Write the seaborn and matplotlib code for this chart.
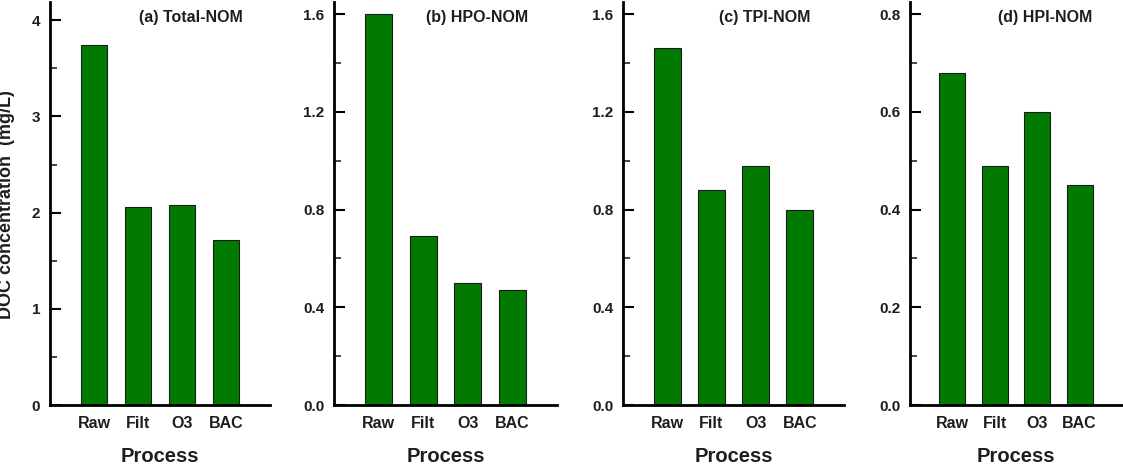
import matplotlib
matplotlib.use("Agg")
import matplotlib.pyplot as plt
import seaborn as sns
import pandas as pd
from matplotlib.ticker import MultipleLocator

sns.set_theme(style="ticks")
plt.rcParams['font.family'] = ['Liberation Sans', 'DejaVu Sans']
plt.rcParams['font.weight'] = 'bold'

processes = ["Raw", "Filt", "O3", "BAC"]
total_nom = [3.74, 2.06, 2.08, 1.72]
hpo_nom = [1.60, 0.69, 0.50, 0.47]
tpi_nom = [1.46, 0.88, 0.98, 0.80]
hpi_nom = [0.68, 0.49, 0.60, 0.45]

titles = ["(a) Total-NOM", "(b) HPO-NOM", "(c) TPI-NOM", "(d) HPI-NOM"]
series = [total_nom, hpo_nom, tpi_nom, hpi_nom]
ylims = [4.19, 1.65, 1.65, 0.825]
major = [1, 0.4, 0.4, 0.2]
minor = [0.5, 0.2, 0.2, 0.1]
fmts = ["{:.0f}", "{:.1f}", "{:.1f}", "{:.1f}"]

TXT = "#1e1e1e"
W, H = 1123, 465
fig = plt.figure(figsize=(W / 100, H / 100), dpi=100)
lefts = [50, 334, 623, 910]
rights = [270, 557, 844, 1122]
bottom_px, top_px = 405, 2
ax_h = bottom_px - top_px

for i in range(4):
    ax = fig.add_axes([lefts[i] / W, (H - bottom_px) / H,
                       (rights[i] - lefts[i]) / W, ax_h / H])
    df = pd.DataFrame({"Process": processes, "DOC": series[i]})
    sns.barplot(data=df, x="Process", y="DOC", ax=ax, color="#007A00",
                saturation=1, width=0.61, edgecolor="#1a1a1a", linewidth=0.8)
    ax.set_xlim(-1, 4)
    ax.set_ylim(0, ylims[i])
    ax.yaxis.set_major_locator(MultipleLocator(major[i]))
    ax.yaxis.set_minor_locator(MultipleLocator(minor[i]))
    f = fmts[i]
    ax.yaxis.set_major_formatter(matplotlib.ticker.FuncFormatter(lambda v, p, f=f: f.format(v)))
    for s in ["top", "right"]:
        ax.spines[s].set_visible(False)
    for s in ["left", "bottom"]:
        ax.spines[s].set_linewidth(2.0)
        ax.spines[s].set_color("black")
    ax.tick_params(axis="y", which="major", direction="in", length=8, width=1.5,
                   labelsize=11, pad=7, colors="black", labelcolor=TXT)
    ax.tick_params(axis="y", which="minor", direction="in", length=5, width=1.2)
    ax.tick_params(axis="x", length=0, labelsize=11.5, pad=8, labelcolor=TXT)
    for lab in ax.get_xticklabels() + ax.get_yticklabels():
        lab.set_fontweight("bold")
    ax.set_xlabel("Process", fontsize=14.5, fontweight="bold", color=TXT,
                  va="baseline")
    ax.xaxis.set_label_coords(0.5, (bottom_px - 462) / ax_h)
    ax.set_ylabel("")
    ax.text(0.64, 0.962, titles[i], transform=ax.transAxes, ha="center",
            va="center", fontsize=11.5, fontweight="bold", color=TXT)
    ax.set_facecolor("white")

fig.text(7 / W, 1 - 205 / H, "DOC concentration  (mg/L)", rotation=90,
         ha="center", va="center", fontsize=13, fontweight="bold", color=TXT)

fig.savefig("out.png", dpi=100, facecolor="white")
